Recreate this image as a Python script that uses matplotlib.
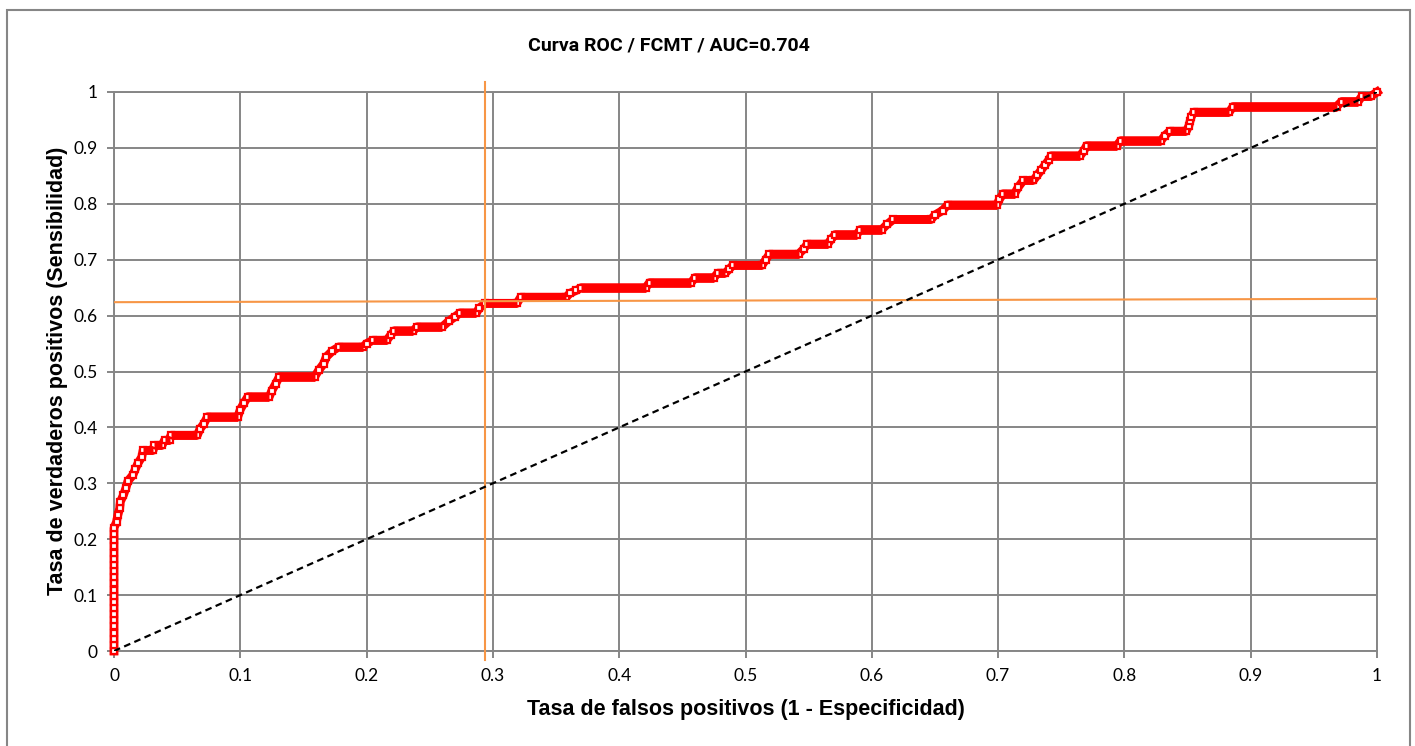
import numpy as np
import matplotlib.pyplot as plt
from matplotlib.patches import Rectangle

# ROC curve points (false positive rate, true positive rate)
fpr = [0, 0, 0, 0, 0, 0, 0, 0, 0, 0, 0, 0, 0, 0, 0, 0, 0, 0, 0, 0, 0,
       0.002, 0.003, 0.0045, 0.005, 0.0075, 0.0095, 0.011, 0.015, 0.017, 0.019,
       0.022, 0.023, 0.031, 0.032, 0.038, 0.040, 0.044, 0.045, 0.066, 0.068,
       0.071, 0.074, 0.098, 0.100, 0.103, 0.106, 0.123, 0.125, 0.128, 0.131,
       0.159, 0.162, 0.166, 0.168, 0.173, 0.178, 0.197, 0.200, 0.205, 0.216,
       0.219, 0.222, 0.237, 0.240, 0.260, 0.265, 0.270, 0.274, 0.287, 0.289,
       0.294, 0.319, 0.322, 0.358, 0.361, 0.366, 0.370, 0.421, 0.424, 0.457,
       0.460, 0.475, 0.478, 0.484, 0.487, 0.490, 0.513, 0.516, 0.519, 0.542,
       0.546, 0.549, 0.565, 0.568, 0.571, 0.588, 0.591, 0.608, 0.612, 0.617,
       0.647, 0.650, 0.656, 0.660, 0.699, 0.701, 0.704, 0.713, 0.716, 0.720,
       0.728, 0.731, 0.734, 0.737, 0.740, 0.742, 0.765, 0.768, 0.770, 0.794,
       0.797, 0.829, 0.832, 0.836, 0.849, 0.851, 0.852, 0.853, 0.855, 0.883,
       0.886, 0.968, 0.972, 0.985, 0.988, 0.995, 1.0]
tpr = [0, 0.011, 0.022, 0.033, 0.044, 0.055, 0.066, 0.077, 0.088, 0.099,
       0.110, 0.121, 0.132, 0.143, 0.154, 0.165, 0.176, 0.187, 0.198, 0.209,
       0.220,
       0.231, 0.243, 0.255, 0.267, 0.279, 0.292, 0.304, 0.315, 0.326, 0.336,
       0.347, 0.359, 0.359, 0.368, 0.368, 0.377, 0.377, 0.386, 0.386, 0.397,
       0.406, 0.419, 0.419, 0.432, 0.444, 0.455, 0.455, 0.466, 0.478, 0.491,
       0.491, 0.502, 0.514, 0.526, 0.537, 0.544, 0.544, 0.550, 0.556, 0.556,
       0.565, 0.573, 0.573, 0.580, 0.580, 0.590, 0.598, 0.605, 0.605, 0.613,
       0.622, 0.622, 0.633, 0.633, 0.640, 0.645, 0.650, 0.650, 0.659, 0.659,
       0.668, 0.668, 0.676, 0.676, 0.683, 0.690, 0.690, 0.700, 0.710, 0.710,
       0.719, 0.728, 0.728, 0.737, 0.745, 0.745, 0.754, 0.754, 0.763, 0.772,
       0.772, 0.780, 0.788, 0.798, 0.798, 0.808, 0.818, 0.818, 0.830, 0.842,
       0.842, 0.851, 0.860, 0.869, 0.878, 0.886, 0.886, 0.895, 0.904, 0.904,
       0.913, 0.913, 0.922, 0.930, 0.930, 0.939, 0.948, 0.956, 0.964, 0.964,
       0.974, 0.974, 0.983, 0.983, 0.992, 0.992, 1.0]

# chance line
diag_x = [0, 1]
diag_y = [0, 1]

# cut-off lines (orange)
cut_x = [0.2937, 0.2937]
cut_x_y = [-0.016, 1.018]
cut_y_x = [0, 1]
cut_y = [0.624, 0.630]

ticks = [0, 0.1, 0.2, 0.3, 0.4, 0.5, 0.6, 0.7, 0.8, 0.9, 1]
tick_labels = ['0', '0.1', '0.2', '0.3', '0.4', '0.5', '0.6', '0.7', '0.8', '0.9', '1']

grey = '#868686'

fig = plt.figure(figsize=(14.15, 7.46), dpi=100)
ax = fig.add_axes([114/1415, 95/746, 1263/1415, 559/746])

ax.plot(fpr, tpr, color='red', lw=6.3, marker='s', ms=5, mfc='white',
        mec='red', mew=1.6, clip_on=False, zorder=3)

# horizontal runs look solid in the original (dense overlapping markers)
run_x, run_y = [], []
for i in range(len(fpr) - 1):
    if tpr[i] == tpr[i + 1]:
        run_x += [fpr[i], fpr[i + 1], np.nan]
        run_y += [tpr[i], tpr[i + 1], np.nan]
ax.plot(run_x, run_y, color='red', lw=6.3, solid_capstyle='butt', zorder=3.5)

ax.plot(diag_x, diag_y, color='black', lw=1.6, ls=(0, (3, 2)), zorder=5)
ax.plot(cut_y_x, cut_y, color='#F79646', lw=1.5, zorder=4)
ax.plot(cut_x, cut_x_y, color='#F79646', lw=1.5, zorder=4, clip_on=False)

ax.set_xlim(0, 1)
ax.set_ylim(0, 1)
ax.set_xticks(ticks)
ax.set_yticks(ticks)
ax.set_xticklabels(tick_labels, family='Lato')
ax.set_yticklabels(tick_labels, family='Lato')
ax.tick_params(direction='out', length=5, width=1.4, color=grey,
               labelsize=12.5, pad=7)
ax.grid(color=grey, lw=1.4)
ax.set_axisbelow(True)
for s in ax.spines.values():
    s.set_color(grey)
    s.set_linewidth(1.4)

fig.text(669/1415, 1 - 45/746, 'Curva ROC / FCMT / AUC=0.704', ha='center',
         va='center', fontsize=14, fontweight='bold', family='Roboto')
fig.text(746/1415, 1 - 710/746, 'Tasa de falsos positivos (1 - Especificidad)',
         ha='center', va='center', fontsize=15.5, fontweight='bold',
         family='Liberation Sans')
fig.text(58/1415, 1 - 371/746, 'Tasa de verdaderos positivos (Sensibilidad)',
         ha='center', va='center', rotation=90, fontsize=15.5, fontweight='bold',
         family='Liberation Sans')

fig.add_artist(Rectangle((7/1415, -0.05), 1403/1415, 736/746 + 0.05,
                         transform=fig.transFigure, fill=False, ec=grey, lw=1.5))

fig.savefig('out.png', dpi=100)
